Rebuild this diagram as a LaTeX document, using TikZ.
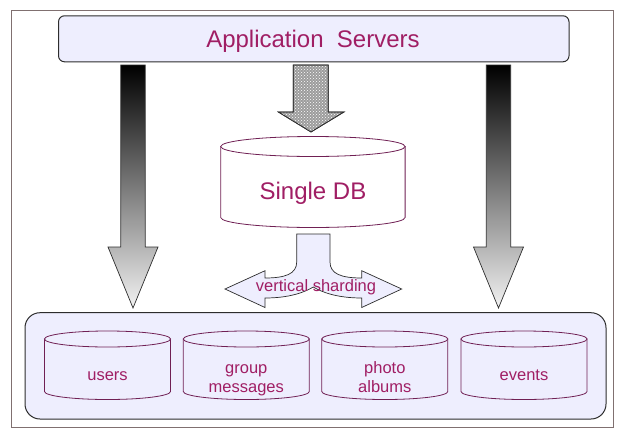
\documentclass[tikz,border=0pt]{standalone}
\usepackage{fontspec}
\setmainfont{Liberation Sans}
\usetikzlibrary{patterns}
\definecolor{txtc}{RGB}{160,30,100}
\definecolor{dbline}{RGB}{112,32,84}
\definecolor{lav}{RGB}{238,238,254}
\definecolor{framec}{RGB}{128,112,112}
\definecolor{edgec}{RGB}{45,45,45}
\tikzset{
  dbstyle/.style={draw=dbline, line width=0.8pt},
  lbl/.style={text=txtc, inner sep=0pt, anchor=base, font=\fontsize{16.5}{19.5}\selectfont},
  biglbl/.style={text=txtc, inner sep=0pt, anchor=base, font=\fontsize{24}{28}\selectfont},
  blockarrow/.style={draw=edgec, line width=0.7pt},
  boxstyle/.style={draw=edgec, fill=lav, line width=1pt}
}
\newcommand{\dbcyl}[6]{%
  \filldraw[dbstyle, fill=#6] ({#1-#4},#2) -- ({#1-#4},#3)
    .. controls ({#1-#4},{#3+0.5523*#5}) and ({#1-0.5523*#4},{#3+#5}) .. (#1,{#3+#5})
    .. controls ({#1+0.5523*#4},{#3+#5}) and ({#1+#4},{#3+0.5523*#5}) .. ({#1+#4},#3)
    -- ({#1+#4},#2) -- cycle;
  \draw[dbstyle, fill=#6] (#1,#2) ellipse [x radius=#4, y radius=#5];
}
\begin{document}
\begin{tikzpicture}[x=1pt,y=-1pt]
\useasboundingbox (0,0) rectangle (624,437);
% outer frame
\draw[framec, line width=1.3pt] (11.5,10.8) rectangle (613.7,427.7);
% application servers box
\draw[boxstyle, rounded corners=6pt] (58.5,15.8) rectangle (569,61.8);
\node[biglbl] (app) at (313,47) {Application\ \ Servers};
% side gradient arrows
\shadedraw[blockarrow, top color=black, bottom color=gray!10]
  (120.8,65) -- (120.8,247) -- (108,247) -- (133,308) -- (158,247) -- (145.2,247) -- (145.2,65) -- cycle;
\shadedraw[blockarrow, top color=black, bottom color=gray!10]
  (486.3,65) -- (486.3,247) -- (473.5,247) -- (498.5,308) -- (523.5,247) -- (510.7,247) -- (510.7,65) -- cycle;
% middle checkered arrow
\filldraw[blockarrow, fill=gray!78]
  (293.3,65) -- (293.3,112) -- (278.3,112) -- (311,132) -- (344,112) -- (328.3,112) -- (328.3,65) -- cycle;
\fill[pattern=crosshatch dots, pattern color=white]
  (293.3,65) -- (293.3,112) -- (278.3,112) -- (311,132) -- (344,112) -- (328.3,112) -- (328.3,65) -- cycle;
\draw[blockarrow]
  (293.3,65) -- (293.3,112) -- (278.3,112) -- (311,132) -- (344,112) -- (328.3,112) -- (328.3,65) -- cycle;
% single DB
\dbcyl{312.9}{146.5}{217.5}{92.2}{10}{white}
\node[biglbl] (single) at (313,199.3) {Single DB};
% vertical sharding split arrow
\filldraw[blockarrow, fill=lav]
  (296.7,234) -- (296.7,262) .. controls (296.7,274) and (285,278) .. (265,278)
  -- (265,270.7) -- (225,289) -- (265,307.5) -- (265,298)
  .. controls (290,298) and (305,292) .. (313.3,287)
  .. controls (321.6,292) and (336.6,298) .. (361.7,298)
  -- (361.7,307.5) -- (401.7,289) -- (361.7,270.7) -- (361.7,278)
  .. controls (341.6,278) and (330,274) .. (330,262) -- (330,234) -- cycle;
\node[lbl] (vs) at (316,291) {vertical sharding};
% bottom container
\draw[boxstyle, rounded corners=15pt] (25,312.7) rectangle (606,419);
% shards
\dbcyl{107.5}{339}{391.5}{63}{8}{lav}
\dbcyl{246.3}{339}{391.5}{63}{8}{lav}
\dbcyl{384.8}{339}{391.5}{63}{8}{lav}
\dbcyl{524}{339}{391.5}{63}{8}{lav}
\node[lbl] (users) at (107.5,380) {users};
\node[lbl] (gm1) at (246.3,373.3) {group};
\node[lbl] (gm2) at (246.3,392.7) {messages};
\node[lbl] (pa1) at (384.8,373.3) {photo};
\node[lbl] (pa2) at (384.8,392.7) {albums};
\node[lbl] (events) at (524,380) {events};
\end{tikzpicture}
\end{document}
